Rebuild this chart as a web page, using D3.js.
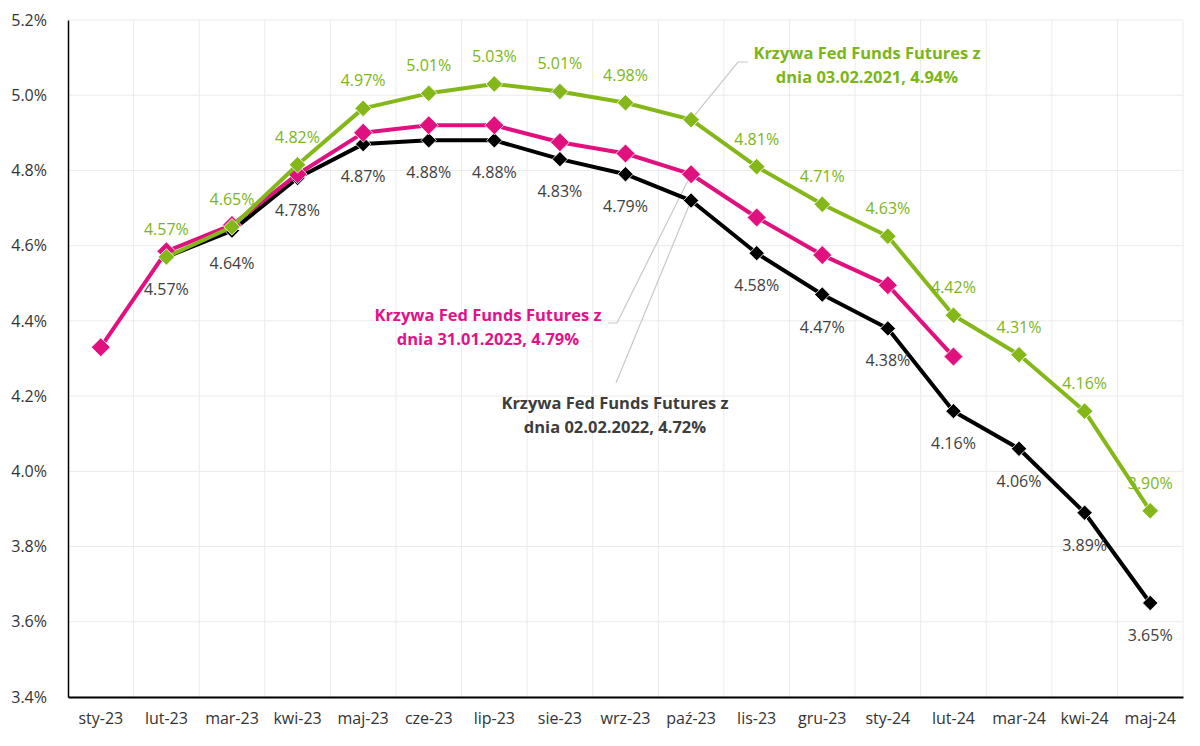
<!DOCTYPE html>
<html>
<head>
<meta charset="utf-8">
<script src="https://cdn.jsdelivr.net/npm/d3@7"></script>
<style>
  body { margin: 0; background: #fff; }
  svg text { font-family: "Open Sans", "Noto Sans", sans-serif; }
</style>
</head>
<body>
<div id="vis"></div>
<script>
// categories (months)
var months = ["sty-23", "lut-23", "mar-23", "kwi-23", "maj-23", "cze-23", "lip-23", "sie-23",
  "wrz-23", "paź-23", "lis-23", "gru-23", "sty-24", "lut-24", "mar-24", "kwi-24", "maj-24"];

// curve from 31.01.2023 (pink), starts at sty-23
var pinkValues = [4.33, 4.585, 4.655, 4.79, 4.90, 4.92, 4.92, 4.875, 4.845, 4.79, 4.675, 4.575, 4.495, 4.305];
// curve from 02.02.2022 (black), starts at lut-23
var blackValues = [4.57, 4.64, 4.78, 4.87, 4.88, 4.88, 4.83, 4.79, 4.72, 4.58, 4.47, 4.38, 4.16, 4.06, 3.89, 3.65];
// curve from 03.02.2021 (green), starts at lut-23
var greenValues = [4.57, 4.65, 4.815, 4.965, 5.005, 5.03, 5.01, 4.98, 4.935, 4.81, 4.71, 4.625, 4.415, 4.31, 4.16, 3.895];
var greenLabels = ["4.57%", "4.65%", "4.82%", "4.97%", "5.01%", "5.03%", "5.01%", "4.98%", "", "4.81%",
  "4.71%", "4.63%", "4.42%", "4.31%", "4.16%", "3.90%"];
var blackLabels = ["4.57%", "4.64%", "4.78%", "4.87%", "4.88%", "4.88%", "4.83%", "4.79%", "", "4.58%",
  "4.47%", "4.38%", "4.16%", "4.06%", "3.89%", "3.65%"];

var yTicks = [3.4, 3.6, 3.8, 4.0, 4.2, 4.4, 4.6, 4.8, 5.0, 5.2];

var width = 1200;
var height = 746;
var margin = { left: 68, right: 17, top: 20, bottom: 49 };

var green = "#84b819";
var pink = "#e0117f";
var black = "#000000";

var svg = d3.select("#vis").append("svg")
  .attr("width", width)
  .attr("height", height);

var x = d3.scaleBand()
  .domain(months)
  .range([margin.left, width - margin.right]);

var y = d3.scaleLinear()
  .domain([3.4, 5.2])
  .range([height - margin.bottom, margin.top]);

function cx(m) { return x(m) + x.bandwidth() / 2; }

// grid
var grid = svg.append("g");
grid.selectAll("line.h")
  .data(yTicks)
  .enter().append("line")
  .attr("x1", margin.left).attr("x2", width - margin.right)
  .attr("y1", function (d) { return y(d); }).attr("y2", function (d) { return y(d); })
  .attr("stroke", "#ebebeb").attr("stroke-width", 1);
grid.selectAll("line.v")
  .data(months.slice(1).concat(["end"]))
  .enter().append("line")
  .attr("x1", function (d) { return d === "end" ? width - margin.right : x(d); })
  .attr("x2", function (d) { return d === "end" ? width - margin.right : x(d); })
  .attr("y1", margin.top).attr("y2", height - margin.bottom)
  .attr("stroke", "#ebebeb").attr("stroke-width", 1);

// axes
var yAxis = d3.axisLeft(y)
  .tickValues(yTicks)
  .tickSize(0)
  .tickPadding(21)
  .tickFormat(function (d) { return d.toFixed(1) + "%"; });
var gy = svg.append("g")
  .attr("transform", "translate(" + margin.left + ",0)")
  .call(yAxis);
gy.select(".domain").attr("stroke", "#000").attr("stroke-width", 1.5);
gy.selectAll("text").attr("font-size", 16).attr("fill", "#333");

var xAxis = d3.axisBottom(x).tickSize(0).tickPadding(16);
var gx = svg.append("g")
  .attr("transform", "translate(0," + (height - margin.bottom) + ")")
  .call(xAxis);
gx.select(".domain").attr("stroke", "#000").attr("stroke-width", 2);
gx.selectAll("text").attr("font-size", 16).attr("fill", "#333");

// annotation leader lines (drawn under series)
var leaders = [
  [[748, 62], [738, 62], [cx("paź-23"), y(4.935)]],
  [[608, 323], [617, 323], [cx("paź-23"), y(4.79)]],
  [[616, 383], [cx("paź-23"), y(4.72)]]
];
svg.selectAll("path.leader")
  .data(leaders)
  .enter().append("path")
  .attr("class", "leader")
  .attr("d", d3.line())
  .attr("fill", "none")
  .attr("stroke", "#c8c8c8")
  .attr("stroke-width", 1.2);

function drawSeries(values, startIndex, color, size) {
  var pts = values.map(function (v, i) { return { m: months[i + startIndex], v: v }; });
  var line = d3.line()
    .x(function (d) { return cx(d.m); })
    .y(function (d) { return y(d.v); });
  svg.append("path")
    .datum(pts)
    .attr("d", line)
    .attr("fill", "none")
    .attr("stroke", color)
    .attr("stroke-width", 4)
    .attr("stroke-linejoin", "round");
  svg.append("g").selectAll("path")
    .data(pts)
    .enter().append("path")
    .attr("d", d3.symbol().type(d3.symbolDiamond2).size(size))
    .attr("transform", function (d) { return "translate(" + cx(d.m) + "," + y(d.v) + ")"; })
    .attr("fill", color)
    .attr("stroke", "#fff")
    .attr("stroke-width", 0.8);
  return pts;
}

var blackPts = drawSeries(blackValues, 1, black, 150);
var pinkPts = drawSeries(pinkValues, 0, pink, 230);
var greenPts = drawSeries(greenValues, 1, green, 175);

// data labels
svg.append("g").selectAll("text")
  .data(greenPts)
  .enter().append("text")
  .attr("x", function (d) { return cx(d.m); })
  .attr("y", function (d) { return y(d.v) - 22; })
  .attr("text-anchor", "middle")
  .attr("font-size", 16)
  .attr("fill", "#7cb518")
  .text(function (d, i) { return greenLabels[i]; });

svg.append("g").selectAll("text")
  .data(blackPts)
  .enter().append("text")
  .attr("x", function (d) { return cx(d.m); })
  .attr("y", function (d) { return y(d.v) + 38; })
  .attr("text-anchor", "middle")
  .attr("font-size", 16)
  .attr("fill", "#404040")
  .text(function (d, i) { return blackLabels[i]; });

// series annotations
var notes = [
  { x: 867, y: 59, color: "#7cb518", lines: ["Krzywa Fed Funds Futures z", "dnia 03.02.2021, 4.94%"] },
  { x: 488, y: 321, color: "#e0138b", lines: ["Krzywa Fed Funds Futures z", "dnia 31.01.2023, 4.79%"] },
  { x: 615, y: 409, color: "#3d3d3d", lines: ["Krzywa Fed Funds Futures z", "dnia 02.02.2022, 4.72%"] }
];
notes.forEach(function (n) {
  var t = svg.append("text")
    .attr("text-anchor", "middle")
    .attr("font-size", 16.5)
    .attr("font-weight", "bold")
    .attr("fill", n.color);
  n.lines.forEach(function (l, i) {
    t.append("tspan").attr("x", n.x).attr("y", n.y + i * 24).text(l);
  });
});
</script>
</body>
</html>
